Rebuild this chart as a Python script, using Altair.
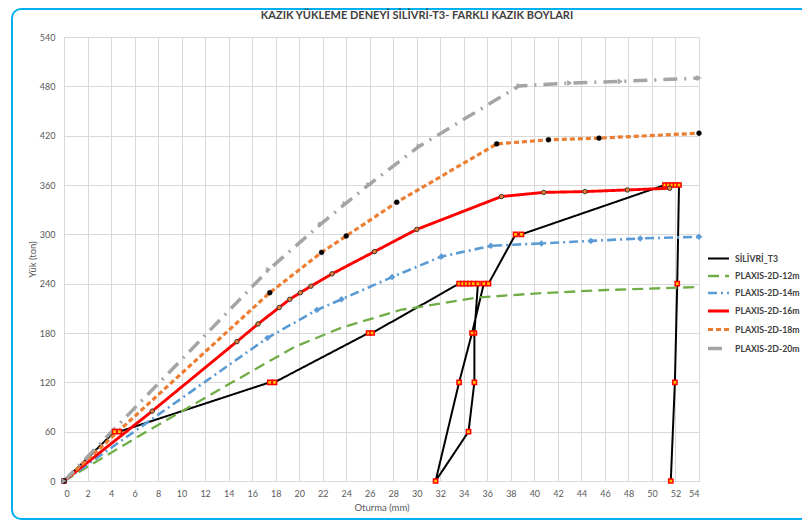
import altair as alt
import pandas as pd

chart_title = "KAZIK YÜKLEME DENEYİ SİLİVRİ-T3- FARKLI KAZIK BOYLARI"

series_names = ["SİLİVRİ_T3", "PLAXIS-2D-12m", "PLAXIS-2D-14m",
                "PLAXIS-2D-16m", "PLAXIS-2D-18m", "PLAXIS-2D-20m"]
series_colors = ["#000000", "#70AD47", "#5B9BD5", "#FF0000", "#ED7D31", "#A5A5A5"]
series_dashes = [[1, 0], [11, 6], [9, 4, 2, 4], [1, 0], [5, 3], [14, 7, 2, 7]]
series_widths = [2, 3.5, 2, 2, 2, 2.2]

t3_x = [0, 4.3, 4.7, 17.5, 17.9, 25.9, 26.2, 33.6, 33.9, 34.2, 34.5, 34.8, 35.2,
        34.9, 34.9, 34.4, 31.6, 33.6, 34.7, 35.7, 36.1, 38.4, 38.9,
        51.1, 51.4, 51.7, 52.0, 52.3, 52.15, 51.95, 51.6]
t3_y = [0, 60, 60, 120, 120, 180, 180, 240, 240, 240, 240, 240, 240,
        180, 120, 60, 0, 120, 180, 240, 240, 300, 300,
        360, 360, 360, 360, 360, 240, 120, 0]

p12_x = [0, 7.0, 14.3, 19.6, 23.5, 28.6, 35.1, 40.0, 45.6, 54]
p12_y = [0, 60, 120, 163, 186, 208, 223, 228, 232, 236]

p14_x = [0, 17.3, 21.5, 23.6, 27.9, 32.1, 36.3, 40.6, 44.8, 49.0, 54]
p14_y = [0, 174, 208, 221, 248, 273, 286, 289, 292, 295, 297]

p16_x = [0, 7.5, 14.7, 16.5, 18.3, 19.2, 20.1, 21.0, 22.8, 26.4, 30.0, 37.2, 40.8, 44.3, 47.9, 51.5]
p16_y = [0, 85, 169.5, 191, 211, 221, 229, 237, 252, 279, 306, 346, 351, 352, 354, 356]

p18_x = [0, 17.5, 21.9, 24.0, 28.3, 36.8, 41.2, 45.5, 54]
p18_y = [0, 229, 278, 298, 339, 410, 415, 417, 423]

p20_x = [0, 17.4, 21.8, 23.9, 25.9, 30.2, 38.7, 43.0, 47.3, 54]
p20_y = [0, 257, 312, 337, 360, 407, 480.5, 484, 486, 490]

x_ticks = list(range(0, 55, 2))
y_ticks = list(range(0, 541, 60))

all_series = [(series_names[0], t3_x, t3_y), (series_names[1], p12_x, p12_y),
              (series_names[2], p14_x, p14_y), (series_names[3], p16_x, p16_y),
              (series_names[4], p18_x, p18_y), (series_names[5], p20_x, p20_y)]
rows = []
for name, xs, ys in all_series:
    for i, (xv, yv) in enumerate(zip(xs, ys)):
        rows.append({"series": name, "x": xv, "y": yv, "idx": i})
df = pd.DataFrame(rows)

FONT = "Lato"

xaxis = alt.Axis(values=x_ticks, title="Oturma (mm)", labelPadding=8,
                 labelOverlap=False, titlePadding=4, grid=True)
yaxis = alt.Axis(values=y_ticks, title="Yük (ton)", labelPadding=9,
                 labelOverlap=False, titleX=-27, titleY=222, grid=True)
xscale = alt.Scale(domain=[0, 54], nice=False, zero=False)
yscale = alt.Scale(domain=[0, 540], nice=False)


def xenc():
    return alt.X("x:Q", scale=xscale, axis=xaxis)


def yenc():
    return alt.Y("y:Q", scale=yscale, axis=yaxis)


lines = alt.Chart(df).mark_line(strokeCap="butt", strokeJoin="round").encode(
    x=xenc(),
    y=yenc(),
    color=alt.Color("series:N", title=None,
                    scale=alt.Scale(domain=series_names, range=series_colors)),
    strokeDash=alt.StrokeDash("series:N", title=None,
                              scale=alt.Scale(domain=series_names, range=series_dashes)),
    strokeWidth=alt.StrokeWidth("series:N", title=None,
                                scale=alt.Scale(domain=series_names, range=series_widths)),
    order=alt.Order("idx:Q"),
)


def pts(name, **kw):
    return alt.Chart(df).transform_filter(alt.datum.series == name).mark_point(
        opacity=1, **kw).encode(x=xenc(), y=yenc())


p_t3 = pts(series_names[0], shape="square", size=18, filled=True, fill="#FFC000",
           stroke="#FF0000", strokeWidth=1.5)
p_14 = pts(series_names[2], shape="diamond", size=36, filled=True, fill="#5B9BD5",
           stroke="#5B9BD5", strokeWidth=0.5)
p_16 = pts(series_names[3], shape="circle", size=20, filled=True, fill="#ED7D31",
           stroke="#3A3A3A", strokeWidth=1)
p_18 = pts(series_names[4], shape="circle", size=24, filled=True, fill="#000000",
           stroke="#000000", strokeWidth=0.5)
p_20 = pts(series_names[5], shape="triangle-right", size=26, filled=True, fill="#A5A5A5",
           stroke="#A5A5A5", strokeWidth=0.5)

frame = alt.Chart(alt.Data(values=[{"a": 1}])).mark_rect(
    fillOpacity=0, stroke="#00B0F0", strokeWidth=2, cornerRadius=9
).encode(x=alt.value(-52), x2=alt.value(770), y=alt.value(-28), y2=alt.value(482))

title_mark = alt.Chart(alt.Data(values=[{"t": chart_title}])).mark_text(
    font=FONT, fontSize=11, fontWeight="bold", color="#404040",
    align="center", baseline="middle"
).encode(text="t:N", x=alt.value(353), y=alt.value(-21))

chart = alt.layer(frame, lines, p_t3, p_14, p_16, p_18, p_20, title_mark).properties(
    width=635, height=444,
    padding={"left": 56, "top": 29, "right": 103, "bottom": 39},
    autosize=alt.AutoSizeParams(type="none"),
).configure_axis(
    labelFont=FONT, labelFontSize=9, labelColor="#595959",
    titleFont=FONT, titleFontSize=9.5, titleColor="#595959", titleFontWeight="normal",
    gridColor="#D9D9D9", gridWidth=1, domainColor="#D9D9D9", ticks=False,
    labelOverlap=False,
).configure_axisX(labelOverlap=False).configure_view(stroke="transparent").configure_legend(
    orient="none", legendX=642, legendY=210, symbolType="stroke", symbolSize=441,
    labelFont=FONT, labelFontSize=8.7, labelFontWeight="bold", labelColor="#404040",
    rowPadding=-6, padding=0, labelOffset=4, labelLimit=200,
)

chart.save("out.html", embed_options={"renderer": "svg", "actions": False})
